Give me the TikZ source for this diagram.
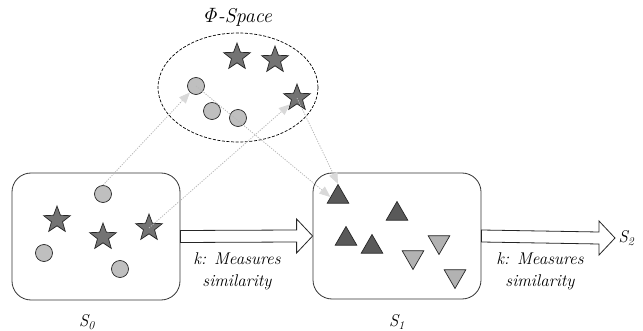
\documentclass[tikz,border=0pt]{standalone}
\usetikzlibrary{shapes.geometric,arrows.meta,calc}
\begin{document}
\begin{tikzpicture}[x=1pt,y=-1pt,
  box/.style={draw=black!80,line width=0.8pt,rounded corners=19pt},
  starnode/.style={star,star points=5,star point ratio=2.4,draw=black!85,line width=0.7pt,fill=black!55,minimum size=28pt,inner sep=0pt},
  dot/.style={circle,draw=black!85,line width=0.7pt,fill=black!25,minimum size=17pt,inner sep=0pt},
  tup/.style={regular polygon,regular polygon sides=3,draw=black!85,line width=0.7pt,fill=black!65,minimum size=25pt,inner sep=0pt},
  tdown/.style={tup,shape border rotate=180,fill=black!30},
  link/.style={draw=black!28,line width=0.8pt,dash pattern=on 1.2pt off 1.3pt,-{Triangle[length=11pt,width=9pt,color=black!15,fill=black!15]}},
  bigarrow/.style={draw=black!85,line width=0.8pt,fill=white},
  lbl/.style={font=\fontsize{17}{22}\selectfont\itshape,align=center},
]
\useasboundingbox (0,0) rectangle (643,331);
% phi space
\node[ellipse,draw=black,dashed,dash pattern=on 3pt off 1.6pt,line width=0.7pt,minimum width=160pt,minimum height=109pt] (phi) at (238,87.5) {};
\node[lbl,font=\fontsize{20}{24}\selectfont\itshape] (philbl) at (237,17) {$\mathit{\Phi}$-Space};
\node[starnode] (ps1) at (237,57) {};
\node[starnode] (ps2) at (275,60) {};
\node[starnode] (ps3) at (297,98) {};
\node[dot] (pc1) at (196,86) {};
\node[dot] (pc2) at (212,111) {};
\node[dot] (pc3) at (238,118) {};
% S0
\node[box,minimum width=168pt,minimum height=127pt] (S0) at (96,236.5) {};
\node[dot] (c1) at (103,194) {};
\node[starnode] (s1) at (57,220) {};
\node[dot] (c2) at (44,253) {};
\node[starnode] (s2) at (103,237) {};
\node[starnode] (s3) at (149,228) {};
\node[dot] (c3) at (120,269) {};
\node[lbl] (S0lbl) at (87,322) {S\textsubscript{0}};
% S1
\node[box,minimum width=168pt,minimum height=126pt] (S1) at (397,236) {};
\node[tup] (t1) at (338,197) {};
\node[tup] (t2) at (397,214) {};
\node[tup] (t3) at (346,239) {};
\node[tup] (t4) at (372,247) {};
\node[tdown] (d1) at (439,242) {};
\node[tdown] (d2) at (413,257) {};
\node[tdown] (d3) at (455,276) {};
\node[lbl] (S1lbl) at (397,322) {S\textsubscript{1}};
% S2
\node[lbl,anchor=west] (S2) at (615,238) {S\textsubscript{2}};
% big arrows
\draw[bigarrow] ($(S0.east)+(0,-6)$) -- ($(S1.west)+(-16,-6)$) -- ($(S1.west)+(-16,-17)$) -- (S1.west) -- ($(S1.west)+(-16,17)$) -- ($(S1.west)+(-16,6)$) -- ($(S0.east)+(0,6)$) -- cycle;
\draw[bigarrow] ($(S1.east)+(0,-6)$) -- ($(S2.west)+(-16,-6)$) -- ($(S2.west)+(-16,-17)$) -- (S2.west) -- ($(S2.west)+(-16,17)$) -- ($(S2.west)+(-16,6)$) -- ($(S1.east)+(0,6)$) -- cycle;
\node[lbl] (k1) at (237,271) {k: Measures\\similarity};
\node[lbl] (k2) at (540,271) {k: Measures\\similarity};
% links
\draw[link] (c1.north) -- (pc1);
\draw[link] (s3.center) -- (ps3);
\draw[link] (pc1.center) -- (t1.west);
\draw[link] (ps3.center) -- (t1.north);
\end{tikzpicture}
\end{document}
